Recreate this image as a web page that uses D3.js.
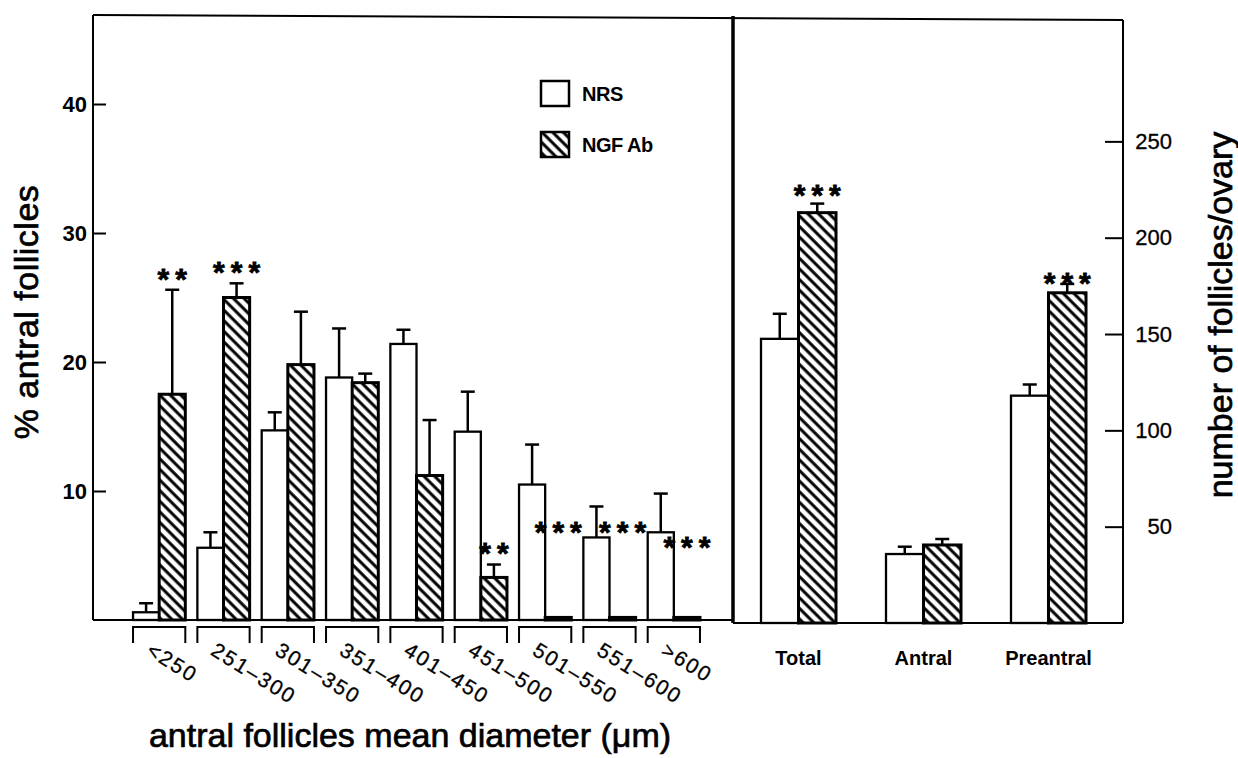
<!DOCTYPE html>
<html>
<head>
<meta charset="utf-8">
<script src="https://cdn.jsdelivr.net/npm/d3@7"></script>
<style>
  body { margin: 0; background: #fff; }
  text { font-family: "Liberation Sans", Arial, sans-serif; fill: #000; }
</style>
</head>
<body>
<div id="chart"></div>
<script>
// left panel: % of antral follicles per size class (um)
const sizeClasses = ["<250", "251-300", "301-350", "351-400", "401-450", "451-500", "501-550", "551-600", ">600"];
const nrsPct = [0.6, 5.6, 14.7, 18.8, 21.4, 14.6, 10.5, 6.4, 6.8];
const nrsPctSem = [0.7, 1.2, 1.4, 3.8, 1.1, 3.1, 3.1, 2.4, 3.0];
const ngfPct = [17.5, 25.0, 19.8, 18.4, 11.2, 3.3, 0.2, 0.2, 0.2];
const ngfPctSem = [8.1, 1.1, 4.1, 0.7, 4.3, 1.0, 0, 0, 0];
const sigPct = ["**", "***", "", "", "", "**", "***", "***", "***"];
const sigPctAt = [27.0, 27.5, 0, 0, 0, 5.7, 7.4, 7.4, 6.2];

// right panel: number of follicles per ovary
const follicleTypes = ["Total", "Antral", "Preantral"];
const nrsCount = [147.5, 35.8, 118];
const nrsCountSem = [13, 3.8, 5.8];
const ngfCount = [213, 40.5, 171.4];
const ngfCountSem = [4.7, 3.1, 4.6];
const sigCount = ["***", "", "***"];
const sigCountAt = [226, 0, 180];

const pctTicks = [10, 20, 30, 40];
const countTicks = [50, 100, 150, 200, 250];
const groups = ["NRS", "NGF Ab"];

const width = 1238, height = 758;

const svg = d3.select("#chart")
    .append("svg")
    .attr("width", width)
    .attr("height", height);

// diagonal hatch for the NGF Ab bars
svg.append("defs")
    .append("pattern")
    .attr("id", "hatch")
    .attr("patternUnits", "userSpaceOnUse")
    .attr("width", 7.5)
    .attr("height", 7.5)
    .attr("patternTransform", "rotate(-45)")
    .call(p => {
        p.append("rect").attr("width", 7.5).attr("height", 7.5).attr("fill", "#fff");
        p.append("line").attr("x1", 2).attr("x2", 2).attr("y1", 0).attr("y2", 7.5)
            .attr("stroke", "#000").attr("stroke-width", 3);
    });

// scales (the two panels share a frame but not an axis)
const yPct = d3.scaleLinear().domain([0, 46.9]).range([620, 15]);
const yCount = d3.scaleLinear().domain([0, 313]).range([623, 20]);

const xPct = d3.scaleBand().domain(sizeClasses).range([127, 706])
    .paddingInner(0.1875).paddingOuter(0.09375);
const xCount = d3.scaleBand().domain(follicleTypes).range([736, 1111])
    .paddingInner(0.4).paddingOuter(0.2);

const subPct = d3.scaleBand().domain(groups).range([0, xPct.bandwidth()]);
const subCount = d3.scaleBand().domain(groups).range([0, xCount.bandwidth()]);

const pctRows = sizeClasses.map((c, i) => ({
    cat: c, sig: sigPct[i], sigAt: sigPctAt[i],
    vals: [{ g: "NRS", v: nrsPct[i], e: nrsPctSem[i] }, { g: "NGF Ab", v: ngfPct[i], e: ngfPctSem[i] }]
}));
const countRows = follicleTypes.map((c, i) => ({
    cat: c, sig: sigCount[i], sigAt: sigCountAt[i],
    vals: [{ g: "NRS", v: nrsCount[i], e: nrsCountSem[i] }, { g: "NGF Ab", v: ngfCount[i], e: ngfCountSem[i] }]
}));

function drawPanel(rows, x, sub, y) {
    const g = svg.append("g");
    const grp = g.selectAll(".grp")
        .data(rows)
        .enter().append("g")
        .attr("transform", d => `translate(${x(d.cat)},0)`);

    const bar = grp.selectAll(".bar")
        .data(d => d.vals)
        .enter().append("g");

    // error bars first so the bar outline covers the stem foot
    bar.filter(d => d.e > 0).append("line")
        .attr("x1", d => sub(d.g) + sub.bandwidth() / 2)
        .attr("x2", d => sub(d.g) + sub.bandwidth() / 2)
        .attr("y1", d => y(d.v))
        .attr("y2", d => y(d.v + d.e))
        .attr("stroke", "#000").attr("stroke-width", 2.5);
    bar.filter(d => d.e > 0).append("line")
        .attr("x1", d => sub(d.g) + sub.bandwidth() / 2 - 7)
        .attr("x2", d => sub(d.g) + sub.bandwidth() / 2 + 7)
        .attr("y1", d => y(d.v + d.e))
        .attr("y2", d => y(d.v + d.e))
        .attr("stroke", "#000").attr("stroke-width", 2.5);

    bar.append("rect")
        .attr("x", d => sub(d.g))
        .attr("y", d => y(d.v))
        .attr("width", sub.bandwidth())
        .attr("height", d => y(0) - y(d.v))
        .attr("fill", d => d.g === "NRS" ? "#fff" : "url(#hatch)")
        .attr("stroke", "#000")
        .attr("stroke-width", d => d.g === "NRS" ? 2.3 : 3);

    // significance stars over the NGF Ab bar
    grp.filter(d => d.sig).append("text")
        .attr("x", sub("NGF Ab") + sub.bandwidth() / 2 + 3)
        .attr("y", d => y(d.sigAt) + 17)
        .attr("text-anchor", "middle")
        .attr("font-size", "30px")
        .attr("font-weight", "bold")
        .attr("letter-spacing", "6px")
        .attr("stroke", "#000")
        .attr("stroke-width", 0.8)
        .text(d => d.sig);
}

drawPanel(pctRows, xPct, subPct, yPct);
drawPanel(countRows, xCount, subCount, yCount);

// frame
const frame = svg.append("g").attr("stroke", "#000").attr("fill", "none");
frame.append("line").attr("x1", 93).attr("x2", 93).attr("y1", yPct(46.9)).attr("y2", yPct(0)).attr("stroke-width", 2);
frame.append("line").attr("x1", 93).attr("x2", 1123).attr("y1", yPct(46.9)).attr("y2", yCount(313)).attr("stroke-width", 2);
frame.append("line").attr("x1", 1123).attr("x2", 1123).attr("y1", yCount(313)).attr("y2", yCount(0)).attr("stroke-width", 2);
frame.append("line").attr("x1", 93).attr("x2", 733).attr("y1", yPct(0)).attr("y2", yPct(0)).attr("stroke-width", 2.2);
frame.append("line").attr("x1", 733).attr("x2", 1123).attr("y1", yCount(0)).attr("y2", yCount(0)).attr("stroke-width", 2.2);
frame.append("line").attr("x1", 733).attr("x2", 733).attr("y1", 16).attr("y2", yCount(0)).attr("stroke-width", 3.5);

// left axis, ticks pointing inward
const axL = svg.append("g")
    .attr("transform", "translate(93,0)")
    .call(d3.axisLeft(yPct).tickValues(pctTicks).tickSizeInner(-13).tickSizeOuter(0).tickPadding(6));
axL.select(".domain").remove();
axL.selectAll("line").attr("stroke-width", 2);
axL.selectAll("text")
    .attr("font-family", "Liberation Sans, Arial, sans-serif")
    .attr("font-size", "22px")
    .attr("font-weight", "bold");

// right axis, ticks pointing inward too
const axR = svg.append("g")
    .attr("transform", "translate(1123,0)")
    .call(d3.axisRight(yCount).tickValues(countTicks).tickSizeInner(-18).tickSizeOuter(0));
axR.select(".domain").remove();
axR.selectAll("line").attr("stroke-width", 2);
axR.selectAll("text")
    .attr("x", 49)
    .attr("text-anchor", "end")
    .attr("font-family", "Liberation Sans, Arial, sans-serif")
    .attr("font-size", "22px")
    .attr("stroke", "#000")
    .attr("stroke-width", 0.3);

// size class brackets + slanted labels
const brk = svg.append("g");
brk.selectAll("path")
    .data(sizeClasses)
    .enter().append("path")
    .attr("d", d => `M${xPct(d)},643V627H${xPct(d) + xPct.bandwidth()}V643`)
    .attr("fill", "none").attr("stroke", "#000").attr("stroke-width", 2);
brk.selectAll("text")
    .data(sizeClasses)
    .enter().append("text")
    .attr("transform", d => `translate(${xPct(d) + xPct.bandwidth() / 2 - 14},654) rotate(32)`)
    .attr("font-size", "21px")
    .attr("letter-spacing", "2px")
    .attr("stroke", "#000")
    .attr("stroke-width", 0.3)
    .text(d => d.replace("-", "\u2013"));

// right panel category names
svg.append("g").selectAll("text")
    .data(follicleTypes)
    .enter().append("text")
    .attr("x", d => xCount(d) + xCount.bandwidth() / 2)
    .attr("y", 665)
    .attr("text-anchor", "middle")
    .attr("font-size", "20px")
    .attr("font-weight", "bold")
    .text(d => d);

// axis titles (a hairline stroke to get the heavy print look)
const titleStyle = t => t
    .attr("text-anchor", "middle")
    .attr("font-size", "34px")
    .attr("stroke", "#000")
    .attr("stroke-width", 0.7);

svg.append("text")
    .attr("transform", "translate(38,312) rotate(-90)")
    .attr("letter-spacing", "0.5px")
    .call(titleStyle)
    .text("% antral follicles");

svg.append("text")
    .attr("transform", "translate(1232,315) rotate(-90)")
    .call(titleStyle)
    .text("number of follicles/ovary");

svg.append("text")
    .attr("x", 410)
    .attr("y", 747)
    .call(titleStyle)
    .text("antral follicles mean diameter (\u03bcm)");

// legend
const legend = svg.append("g").attr("transform", "translate(541,81)");
legend.selectAll("rect")
    .data(groups)
    .enter().append("rect")
    .attr("x", 0)
    .attr("y", (d, i) => i * 51)
    .attr("width", 28)
    .attr("height", 25)
    .attr("fill", d => d === "NRS" ? "#fff" : "url(#hatch)")
    .attr("stroke", "#000")
    .attr("stroke-width", 2.5);
legend.selectAll("text")
    .data(groups)
    .enter().append("text")
    .attr("x", 41)
    .attr("y", (d, i) => i * 51 + 20)
    .attr("font-size", "20px")
    .attr("font-weight", "bold")
    .attr("letter-spacing", "-0.5px")
    .text(d => d);
</script>
</body>
</html>
